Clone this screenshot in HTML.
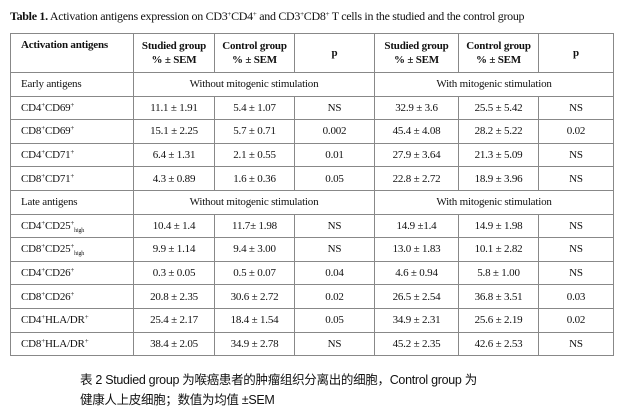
<!DOCTYPE html>
<html><head><meta charset="utf-8"><style>
body{margin:0;width:620px;height:413px;background:#fff;position:relative;font-family:"Liberation Serif",serif;color:#111;overflow:hidden}
.t{position:absolute;left:10px;top:9px;font-size:12px;white-space:nowrap;letter-spacing:-0.3px}
table{position:absolute;left:10px;top:33px;border-collapse:collapse;table-layout:fixed;width:603px;font-size:11px;letter-spacing:-0.2px}
td{border:1px solid #888;height:22.6px;padding:0;text-align:center;white-space:nowrap}
td.l{text-align:left;padding-left:10px}
tr.h td{height:37px;font-weight:bold;line-height:14px;box-sizing:border-box}
tr.h{height:39px}
sup{font-size:7px;vertical-align:4px;line-height:0}
sub{font-size:6px;vertical-align:-3px;line-height:0}
.c{position:absolute;left:80px;font-family:"Liberation Sans","Noto Sans CJK SC",sans-serif;font-size:12.5px;white-space:nowrap;letter-spacing:-0.3px}
</style></head><body>
<div class="t"><b>Table 1.</b> Activation antigens expression on CD3<sup>+</sup>CD4<sup>+</sup> and CD3<sup>+</sup>CD8<sup>+</sup> T cells in the studied and the control group</div>
<table>
<colgroup><col style="width:123px"><col style="width:81px"><col style="width:80px"><col style="width:80px"><col style="width:84px"><col style="width:80px"><col style="width:75px"></colgroup>
<tr class="h"><td class="l" style="vertical-align:top;padding-top:4px">Activation antigens</td><td>Studied group<br>% ± SEM</td><td>Control group<br>% ± SEM</td><td>p</td><td>Studied group<br>% ± SEM</td><td>Control group<br>% ± SEM</td><td>p</td></tr>
<tr><td class="l">Early antigens</td><td colspan="3">Without mitogenic stimulation</td><td colspan="3">With mitogenic stimulation</td></tr>
<tr><td class="l">CD4<sup>+</sup>CD69<sup>+</sup></td><td>11.1 ± 1.91</td><td>5.4 ± 1.07</td><td>NS</td><td>32.9 ± 3.6</td><td>25.5 ± 5.42</td><td>NS</td></tr>
<tr><td class="l">CD8<sup>+</sup>CD69<sup>+</sup></td><td>15.1 ± 2.25</td><td>5.7 ± 0.71</td><td>0.002</td><td>45.4 ± 4.08</td><td>28.2 ± 5.22</td><td>0.02</td></tr>
<tr><td class="l">CD4<sup>+</sup>CD71<sup>+</sup></td><td>6.4 ± 1.31</td><td>2.1 ± 0.55</td><td>0.01</td><td>27.9 ± 3.64</td><td>21.3 ± 5.09</td><td>NS</td></tr>
<tr><td class="l">CD8<sup>+</sup>CD71<sup>+</sup></td><td>4.3 ± 0.89</td><td>1.6 ± 0.36</td><td>0.05</td><td>22.8 ± 2.72</td><td>18.9 ± 3.96</td><td>NS</td></tr>
<tr><td class="l">Late antigens</td><td colspan="3">Without mitogenic stimulation</td><td colspan="3">With mitogenic stimulation</td></tr>
<tr><td class="l">CD4<sup>+</sup>CD25<sup>+</sup><sub>high</sub></td><td>10.4 ± 1.4</td><td>11.7± 1.98</td><td>NS</td><td>14.9 ±1.4</td><td>14.9 ± 1.98</td><td>NS</td></tr>
<tr><td class="l">CD8<sup>+</sup>CD25<sup>+</sup><sub>high</sub></td><td>9.9 ± 1.14</td><td>9.4 ± 3.00</td><td>NS</td><td>13.0 ± 1.83</td><td>10.1 ± 2.82</td><td>NS</td></tr>
<tr><td class="l">CD4<sup>+</sup>CD26<sup>+</sup></td><td>0.3 ± 0.05</td><td>0.5 ± 0.07</td><td>0.04</td><td>4.6 ± 0.94</td><td>5.8 ± 1.00</td><td>NS</td></tr>
<tr><td class="l">CD8<sup>+</sup>CD26<sup>+</sup></td><td>20.8 ± 2.35</td><td>30.6 ± 2.72</td><td>0.02</td><td>26.5 ± 2.54</td><td>36.8 ± 3.51</td><td>0.03</td></tr>
<tr><td class="l">CD4<sup>+</sup>HLA/DR<sup>+</sup></td><td>25.4 ± 2.17</td><td>18.4 ± 1.54</td><td>0.05</td><td>34.9 ± 2.31</td><td>25.6 ± 2.19</td><td>0.02</td></tr>
<tr><td class="l">CD8<sup>+</sup>HLA/DR<sup>+</sup></td><td>38.4 ± 2.05</td><td>34.9 ± 2.78</td><td>NS</td><td>45.2 ± 2.35</td><td>42.6 ± 2.53</td><td>NS</td></tr>
</table>
<div class="c" style="top:369px">表 2 Studied group 为喉癌患者的肿瘤组织分离出的细胞，Control group 为</div>
<div class="c" style="top:389px">健康人上皮细胞；数值为均值 ±SEM</div>
</body></html>
